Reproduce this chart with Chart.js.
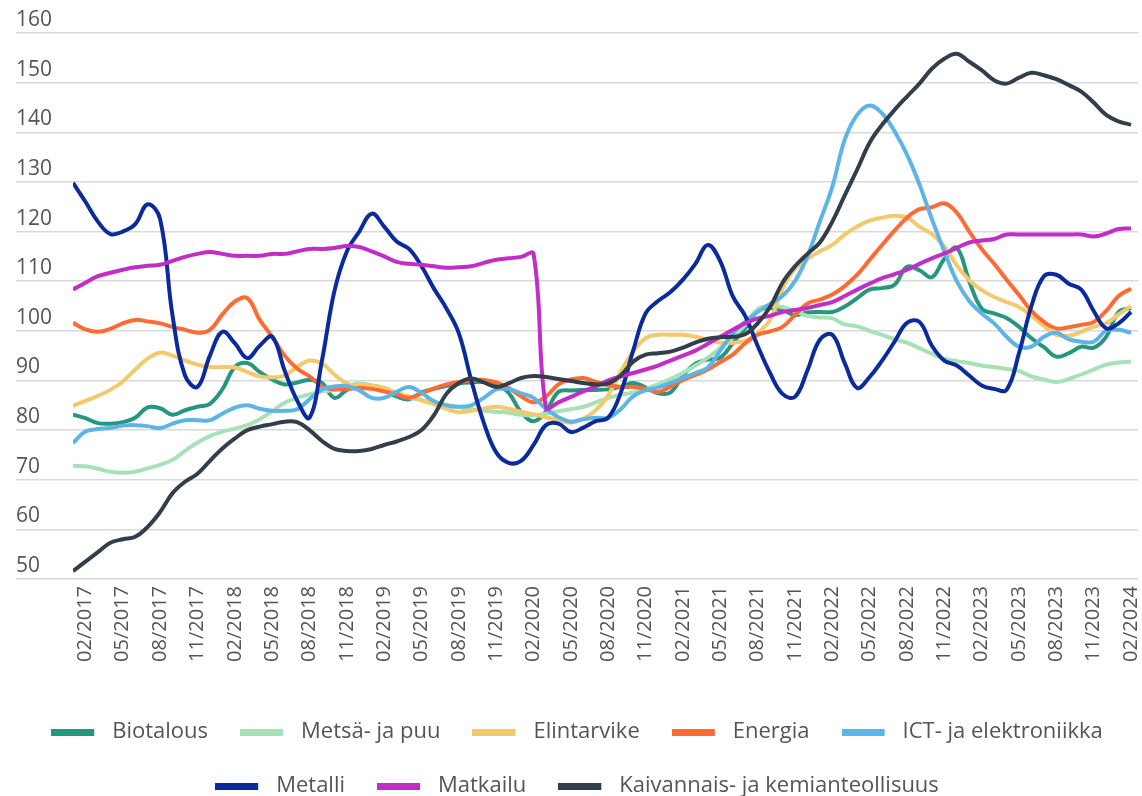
<!DOCTYPE html>
<html><head><meta charset="utf-8">
<script src="https://cdn.jsdelivr.net/npm/chart.js@4.4.1/dist/chart.umd.min.js"></script>
<style>html,body{margin:0;padding:0;background:#fff}#wrap{width:1142px;height:796px;position:relative}</style>
</head><body><div id="wrap"><canvas id="c"></canvas></div>
<script>
const months = ['01/2017','02/2017','03/2017','04/2017','05/2017','06/2017','07/2017','08/2017','09/2017','10/2017','11/2017','12/2017',
'01/2018','02/2018','03/2018','04/2018','05/2018','06/2018','07/2018','08/2018','09/2018','10/2018','11/2018','12/2018',
'01/2019','02/2019','03/2019','04/2019','05/2019','06/2019','07/2019','08/2019','09/2019','10/2019','11/2019','12/2019',
'01/2020','02/2020','03/2020','04/2020','05/2020','06/2020','07/2020','08/2020','09/2020','10/2020','11/2020','12/2020',
'01/2021','02/2021','03/2021','04/2021','05/2021','06/2021','07/2021','08/2021','09/2021','10/2021','11/2021','12/2021',
'01/2022','02/2022','03/2022','04/2022','05/2022','06/2022','07/2022','08/2022','09/2022','10/2022','11/2022','12/2022',
'01/2023','02/2023','03/2023','04/2023','05/2023','06/2023','07/2023','08/2023','09/2023','10/2023','11/2023','12/2023',
'01/2024','02/2024'];
const shownMonths = ['02','05','08','11'];
const yTicks = [50,60,70,80,90,100,110,120,130,140,150,160];

const seriesNames = ['Biotalous','Metsä- ja puu','Elintarvike','Energia','ICT- ja elektroniikka','Metalli','Matkailu','Kaivannais- ja kemianteollisuus'];
const seriesColors = ['#26967f','#a6e2b6','#f2c96b','#ff6a35','#5cb5e6','#0b2a9c','#c22cc9','#323e49'];

const biotalous = [83.1,82.4,81.4,81.3,81.6,82.5,84.6,84.4,83.1,84.0,84.7,85.3,
88.2,92.7,93.5,91.7,90.2,89.2,89.6,90.1,89.5,86.5,88.1,89.1,
88.8,88.0,86.8,86.2,87.6,88.3,88.9,89.4,89.6,89.7,89.2,87.5,
83.6,81.8,83.8,87.7,88.0,88.1,88.1,88.2,88.7,89.5,88.6,87.4,
87.6,91.0,93.4,94.2,94.6,97.5,100.5,104.0,104.6,104.2,103.2,103.7,
103.8,103.8,104.9,106.6,108.3,108.6,109.3,112.9,112.2,110.8,114.5,116.7,
110.0,104.5,103.5,102.6,100.8,98.5,96.7,94.8,95.5,96.8,96.6,98.8,
103.8,104.6];
const metsaPuu = [72.8,72.7,72.2,71.6,71.4,71.6,72.3,73.0,74.0,75.8,77.5,78.8,
79.7,80.3,81.0,82.2,83.8,85.5,86.5,87.2,87.8,88.1,88.8,89.4,
89.0,87.9,87.3,86.6,86.0,85.6,85.0,84.6,84.2,83.9,83.7,83.5,
83.1,83.0,83.3,83.8,84.2,84.7,85.6,86.5,87.1,87.6,88.3,89.2,
90.3,91.5,93.0,94.6,96.6,98.8,101.2,104.4,105.0,104.8,104.0,103.0,
102.7,102.5,101.3,100.9,100.0,99.2,98.3,97.6,96.5,95.4,94.4,93.9,
93.5,93.0,92.7,92.3,91.9,90.8,90.2,89.7,90.3,91.2,92.2,93.2,
93.6,93.8];
const elintarvike = [84.9,85.9,86.9,88.1,89.8,92.2,94.4,95.6,95.0,94.0,93.2,92.7,
92.7,92.6,91.7,90.8,90.6,91.0,92.7,94.0,93.4,91.2,89.4,88.9,
89.0,88.5,87.5,86.8,86.0,85.2,84.3,83.6,83.9,84.3,84.7,84.3,
83.7,83.2,82.6,82.0,81.5,82.3,84.0,87.0,91.8,95.8,98.5,99.2,
99.2,99.2,98.8,98.2,97.6,97.6,98.0,99.5,102.2,108.5,112.5,114.5,
116.0,117.3,119.4,121.0,122.2,122.8,123.2,122.8,121.0,119.5,117.0,113.2,
110.2,108.2,106.8,105.8,104.8,103.0,101.0,99.2,99.0,99.8,100.8,101.5,
103.3,105.0];
const energia = [101.6,100.3,99.8,100.4,101.5,102.2,101.9,101.5,100.8,100.2,99.6,100.2,
103.3,105.9,106.6,102.2,98.8,95.0,92.4,90.8,88.8,88.2,88.3,88.5,
88.3,87.8,87.2,86.5,87.4,88.4,89.2,89.7,90.0,90.1,89.6,88.5,
86.8,85.6,86.8,89.2,90.2,90.5,89.7,89.1,88.7,88.7,88.3,87.7,
88.8,90.1,91.1,92.2,93.7,95.2,97.5,99.2,99.9,100.8,103.2,105.5,
106.3,107.3,109.0,111.3,114.3,117.3,120.2,122.8,124.5,124.9,125.7,123.8,
120.0,116.5,113.5,110.3,107.2,104.0,101.8,100.5,100.7,101.2,101.8,104.0,
107.0,108.5];
const ictElektroniikka = [77.4,79.7,80.2,80.4,80.9,81.0,80.8,80.4,81.3,82.0,82.0,82.0,
83.3,84.5,85.0,84.3,83.9,83.9,84.2,86.2,88.2,88.8,88.9,88.0,
86.5,86.5,87.7,88.7,87.5,85.8,85.0,84.7,85.0,86.5,88.2,88.3,
87.4,86.5,84.3,82.6,81.7,82.2,82.5,82.5,84.2,86.8,88.0,88.6,
89.5,90.5,91.5,92.6,96.0,99.5,101.8,103.8,105.4,107.0,110.0,115.0,
122.0,129.0,138.5,143.5,145.4,143.8,140.2,135.5,129.5,122.5,116.0,110.0,
106.0,103.5,101.5,98.8,96.8,96.8,98.8,99.6,98.3,97.8,97.8,100.0,
100.2,99.6];
const metalli = [129.8,126.0,122.0,119.5,120.0,121.5,125.5,122.5,103.0,91.0,88.7,95.0,
99.8,97.5,94.5,97.0,98.8,92.0,86.0,82.5,94.0,108.0,116.0,120.0,
123.6,121.0,118.0,116.5,113.0,108.5,104.5,99.5,90.0,81.5,75.5,73.4,
73.8,77.0,81.0,81.3,79.6,80.5,81.8,82.5,87.5,96.0,103.5,106.0,
107.8,110.3,113.5,117.3,114.0,107.0,103.0,97.0,91.5,87.3,86.7,92.0,
98.2,99.2,93.5,88.5,90.7,94.0,97.8,101.6,101.8,97.0,94.0,93.0,
91.0,89.0,88.3,88.1,95.5,105.0,111.0,111.3,109.5,108.3,104.0,100.5,
101.5,103.8];
const matkailu = [108.3,109.7,111.0,111.7,112.3,112.8,113.1,113.3,114.1,114.9,115.5,115.9,
115.5,115.1,115.1,115.1,115.5,115.5,116.0,116.5,116.5,116.7,117.1,116.9,
116.0,115.0,113.9,113.5,113.3,113.0,112.7,112.8,113.0,113.7,114.3,114.6,
114.9,115.5,84.5,85.6,86.7,87.8,88.8,90.0,90.8,91.5,92.2,93.0,
94.0,95.0,96.0,97.4,98.8,100.2,101.5,102.5,103.0,103.8,104.2,104.6,
105.2,105.8,107.0,108.3,109.5,110.6,111.4,112.3,113.5,114.6,115.6,116.7,
117.8,118.2,118.5,119.4,119.4,119.4,119.4,119.4,119.4,119.4,119.0,119.6,
120.5,120.6];
const kaivannaisKemia = [51.6,53.5,55.4,57.3,58.0,58.5,60.5,63.5,67.3,69.6,71.2,73.8,
76.3,78.3,80.0,80.7,81.2,81.7,81.6,80.0,77.8,76.2,75.8,75.8,
76.2,77.0,77.7,78.6,80.0,83.0,87.3,89.5,90.4,89.6,88.7,89.4,
90.5,90.9,90.7,90.3,89.9,89.5,89.2,89.4,91.0,93.8,95.2,95.5,
95.8,96.6,97.6,98.4,98.7,98.8,99.3,101.5,104.8,109.7,113.0,115.5,
117.8,122.0,127.3,132.5,137.9,141.5,144.5,147.2,149.8,152.8,154.8,155.8,
154.2,152.5,150.5,149.8,151.0,152.0,151.5,150.7,149.5,148.2,146.0,143.5,
142.2,141.5];

const seriesValues = [biotalous, metsaPuu, elintarvike, energia, ictElektroniikka, metalli, matkailu, kaivannaisKemia];

const FONT = 'Open Sans';
const TEXT = '#555555';
const GRID = '#d9d9d9';

function swatch(color){
  const c = document.createElement('canvas');
  c.width = 50; c.height = 7;
  const g = c.getContext('2d');
  g.fillStyle = color; g.fillRect(0,0,43,7);
  return c;
}

const datasets = seriesNames.map((name, i) => ({
  label: name,
  data: seriesValues[i].map((v, k) => ({x: k, y: v})),
  borderColor: seriesColors[i],
  backgroundColor: seriesColors[i],
  borderWidth: 4,
  pointRadius: 0,
  tension: 0.4,
  fill: false,
  order: seriesNames.length - 1 - i
}));

new Chart(document.getElementById('c'), {
  type: 'line',
  data: { datasets },
  options: {
    responsive: true,
    maintainAspectRatio: false,
    animation: false,
    devicePixelRatio: 1,
    layout: { padding: { left: 16, right: 4, top: 33, bottom: 0 } },
    plugins: {
      tooltip: { enabled: false },
      legend: {
        position: 'bottom',
        maxHeight: 107,
        labels: {
          font: { family: FONT, size: 22 },
          color: TEXT,
          padding: 32,
          usePointStyle: true,
          pointStyleWidth: 50,
          generateLabels(chart) {
            const items = Chart.defaults.plugins.legend.labels.generateLabels(chart);
            items.forEach(it => { it.pointStyle = swatch(seriesColors[it.datasetIndex]); it.lineWidth = 0; });
            items.sort((a, b) => a.datasetIndex - b.datasetIndex);
            return items;
          }
        }
      }
    },
    scales: {
      x: {
        type: 'linear',
        min: 0,
        max: 85.56,
        afterBuildTicks: s => { s.ticks = months.map((m, i) => ({ value: i })).filter(t => shownMonths.includes(months[t.value].slice(0, 2))); },
        afterFit: s => { s.height = 110; s.paddingLeft = 0; s.paddingRight = 0; },
        ticks: {
          autoSkip: false, minRotation: 90, maxRotation: 90, padding: 7,
          font: { family: FONT, size: 20 }, color: TEXT,
          callback: v => months[v]
        },
        grid: { display: false, drawTicks: false },
        border: { display: false }
      },
      y: {
        min: 50,
        max: 160,
        afterBuildTicks: s => { s.ticks = yTicks.map(v => ({ value: v })); },
        afterFit: s => { s.width = 57; s.paddingTop = 0; s.paddingBottom = 0; },
        ticks: {
          font: { family: FONT, size: 21 }, color: TEXT,
          crossAlign: 'far', labelOffset: -13, padding: 0
        },
        grid: { color: GRID, lineWidth: 1.5, drawTicks: true, tickLength: 57 },
        border: { display: false }
      }
    }
  }
});
</script>
</body></html>
